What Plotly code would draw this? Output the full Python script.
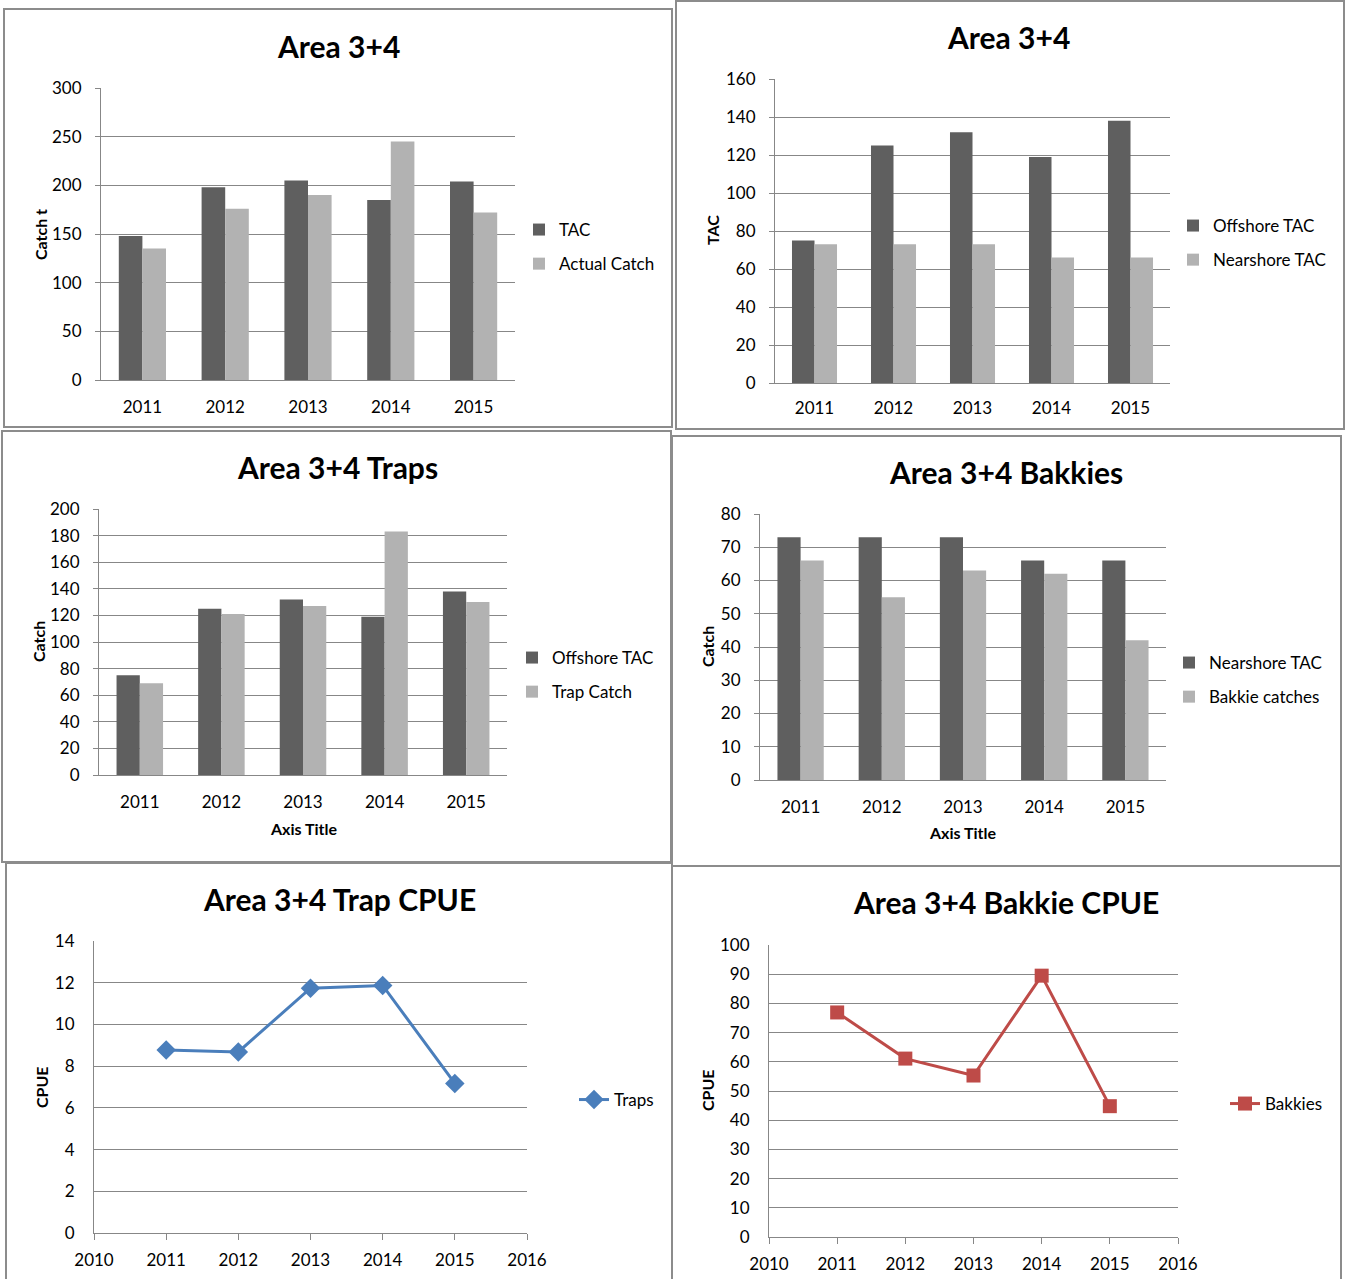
import plotly.graph_objects as go

# ---- data -------------------------------------------------------------
years = ["2011", "2012", "2013", "2014", "2015"]
tac_total = [148, 198, 205, 185, 204]
actual_catch = [135, 176, 190, 245, 172]
offshore_tac = [75, 125, 132, 119, 138]
nearshore_tac = [73, 73, 73, 66, 66]
trap_catch = [69, 121, 127, 183, 130]
bakkie_catch = [66, 55, 63, 62, 42]
cpue_years = [2011, 2012, 2013, 2014, 2015]
trap_cpue = [8.77, 8.68, 11.74, 11.87, 7.17]
bakkie_cpue = [76.9, 61.1, 55.3, 89.5, 44.8]

# ---- page geometry (pixels) --------------------------------------------
W, H = 1351, 1279
FONT = "Lato, 'Open Sans', Arial, sans-serif"
DARK = "#5f5f5f"
LIGHT = "#b2b2b2"
GRID = "#878787"
TXT = "#000000"


def px(x):
    return x / W


def py(y):
    return 1 - y / H


fig = go.Figure()

# panel frames
frames = [
    (4, 9, 672, 427),
    (676, 1, 1344, 429),
    (2, 431, 671, 862),
    (672, 436, 1341, 866),
    (6, 863, 672, 1300),
    (672, 866, 1341, 1300),
]
for x0, y0, x1, y1 in frames:
    fig.add_shape(type="rect", xref="paper", yref="paper",
                  x0=px(x0), x1=px(x1), y0=py(y0), y1=py(y1),
                  line=dict(color="#8c8c8c", width=2), layer="below")

# plot areas: (left, top, right, bottom) in pixels
areas = [
    (101, 88, 515, 380),
    (775, 79, 1170, 383),
    (99, 509, 507, 775),
    (760, 514, 1166, 780),
    (94, 941, 527, 1233),
    (769, 945, 1178, 1237),
]

y_ranges = [(0, 300, 50), (0, 160, 20), (0, 200, 20), (0, 80, 10), (0, 14, 2), (0, 100, 10)]
x_standoff = [12, 10, 12, 12, 6, 6]

layout_axes = {}
for i, ((l, t, r, b), (ymin, ymax, dt)) in enumerate(zip(areas, y_ranges), start=1):
    sfx = "" if i == 1 else str(i)
    is_line = i >= 5
    xa = dict(
        domain=[px(l), px(r)], anchor="y" + sfx, automargin=False,
        showline=True, linecolor=GRID, linewidth=1,
        showgrid=False, zeroline=False,
        tickfont=dict(family=FONT, size=17, color=TXT),
        ticklabelstandoff=x_standoff[i - 1],
    )
    if is_line:
        xa.update(type="linear", range=[2010, 2016], dtick=1, tick0=2010,
                  ticks="outside", ticklen=6, tickcolor=GRID)
    else:
        xa.update(type="category", ticks="")
    ya = dict(
        domain=[py(b), py(t)], anchor="x" + sfx, automargin=False,
        range=[ymin, ymax], dtick=dt, tick0=0,
        showline=True, linecolor=GRID, linewidth=1,
        showgrid=True, gridcolor=GRID, gridwidth=1, zeroline=False,
        tickfont=dict(family=FONT, size=17, color=TXT),
    )
    if is_line:
        ya.update(ticks="", ticklabelstandoff=15)
    else:
        ya.update(ticks="outside", ticklen=5, tickcolor=GRID, ticklabelstandoff=10)
    layout_axes["xaxis" + sfx] = xa
    layout_axes["yaxis" + sfx] = ya


def bars(name, vals, color, k, leg):
    sfx = "" if k == 1 else str(k)
    return go.Bar(x=years, y=vals, name=name, marker=dict(color=color, line=dict(width=0)),
                  xaxis="x" + sfx, yaxis="y" + sfx, legend=leg, legendgroup=name + sfx)


fig.add_trace(bars("TAC", tac_total, DARK, 1, "legend"))
fig.add_trace(bars("Actual Catch", actual_catch, LIGHT, 1, "legend"))
fig.add_trace(bars("Offshore TAC", offshore_tac, DARK, 2, "legend2"))
fig.add_trace(bars("Nearshore TAC", nearshore_tac, LIGHT, 2, "legend2"))
fig.add_trace(bars("Offshore TAC", offshore_tac, DARK, 3, "legend3"))
fig.add_trace(bars("Trap Catch", trap_catch, LIGHT, 3, "legend3"))
fig.add_trace(bars("Nearshore TAC", nearshore_tac, DARK, 4, "legend4"))
fig.add_trace(bars("Bakkie catches", bakkie_catch, LIGHT, 4, "legend4"))

fig.add_trace(go.Scatter(
    x=cpue_years, y=trap_cpue, name="Traps", mode="lines+markers",
    line=dict(color="#4a7ebb", width=3),
    marker=dict(symbol="diamond", size=15, color="#4a7ebb"),
    xaxis="x5", yaxis="y5", legend="legend5"))
fig.add_trace(go.Scatter(
    x=cpue_years, y=bakkie_cpue, name="Bakkies", mode="lines+markers",
    line=dict(color="#be4b48", width=3),
    marker=dict(symbol="square", size=14, color="#be4b48"),
    xaxis="x6", yaxis="y6", legend="legend6"))


def legend_box(x, yc):
    return dict(x=px(x), y=py(yc), xanchor="left", yanchor="middle",
                bgcolor="rgba(0,0,0,0)", borderwidth=0,
                font=dict(family=FONT, size=17, color=TXT),
                traceorder="grouped", tracegroupgap=9)


legends = {
    "legend": legend_box(519, 247),
    "legend2": legend_box(1173, 243),
    "legend3": legend_box(512, 675),
    "legend4": legend_box(1169, 680),
    "legend5": legend_box(574, 1100),
    "legend6": legend_box(1225, 1104),
}

# chart titles and axis titles
annotations = []
titles = [
    ("Area 3+4", 338, 46),
    ("Area 3+4", 1009, 37),
    ("Area 3+4 Traps", 337, 467),
    ("Area 3+4 Bakkies", 1006, 472),
    ("Area 3+4 Trap CPUE", 339, 899),
    ("Area 3+4 Bakkie CPUE", 1006, 902),
]
for text, x, y in titles:
    annotations.append(dict(text=text, x=px(x), y=py(y), xref="paper", yref="paper",
                            xanchor="center", yanchor="middle", showarrow=False,
                            font=dict(family=FONT, size=30, color=TXT, weight="bold")))

y_titles = [
    ("Catch t", 40, 235),
    ("TAC", 712, 230),
    ("Catch", 38, 642),
    ("Catch", 707, 647),
    ("CPUE", 41, 1087),
    ("CPUE", 707, 1090),
]
for text, x, y in y_titles:
    annotations.append(dict(text=text, x=px(x), y=py(y), xref="paper", yref="paper",
                            xanchor="center", yanchor="middle", showarrow=False,
                            textangle=-90,
                            font=dict(family=FONT, size=16, color=TXT, weight="bold")))

for x, y in [(303, 828), (962, 832)]:
    annotations.append(dict(text="Axis Title", x=px(x), y=py(y), xref="paper", yref="paper",
                            xanchor="center", yanchor="middle", showarrow=False,
                            font=dict(family=FONT, size=16, color=TXT, weight="bold")))

fig.update_layout(
    width=W, height=H, autosize=False,
    margin=dict(l=0, r=0, t=0, b=0, pad=0, autoexpand=False),
    paper_bgcolor="white", plot_bgcolor="white",
    barmode="group", bargap=0.43, bargroupgap=0,
    showlegend=True,
    annotations=annotations,
    **layout_axes,
    **legends,
)

fig.write_html("out.html")
